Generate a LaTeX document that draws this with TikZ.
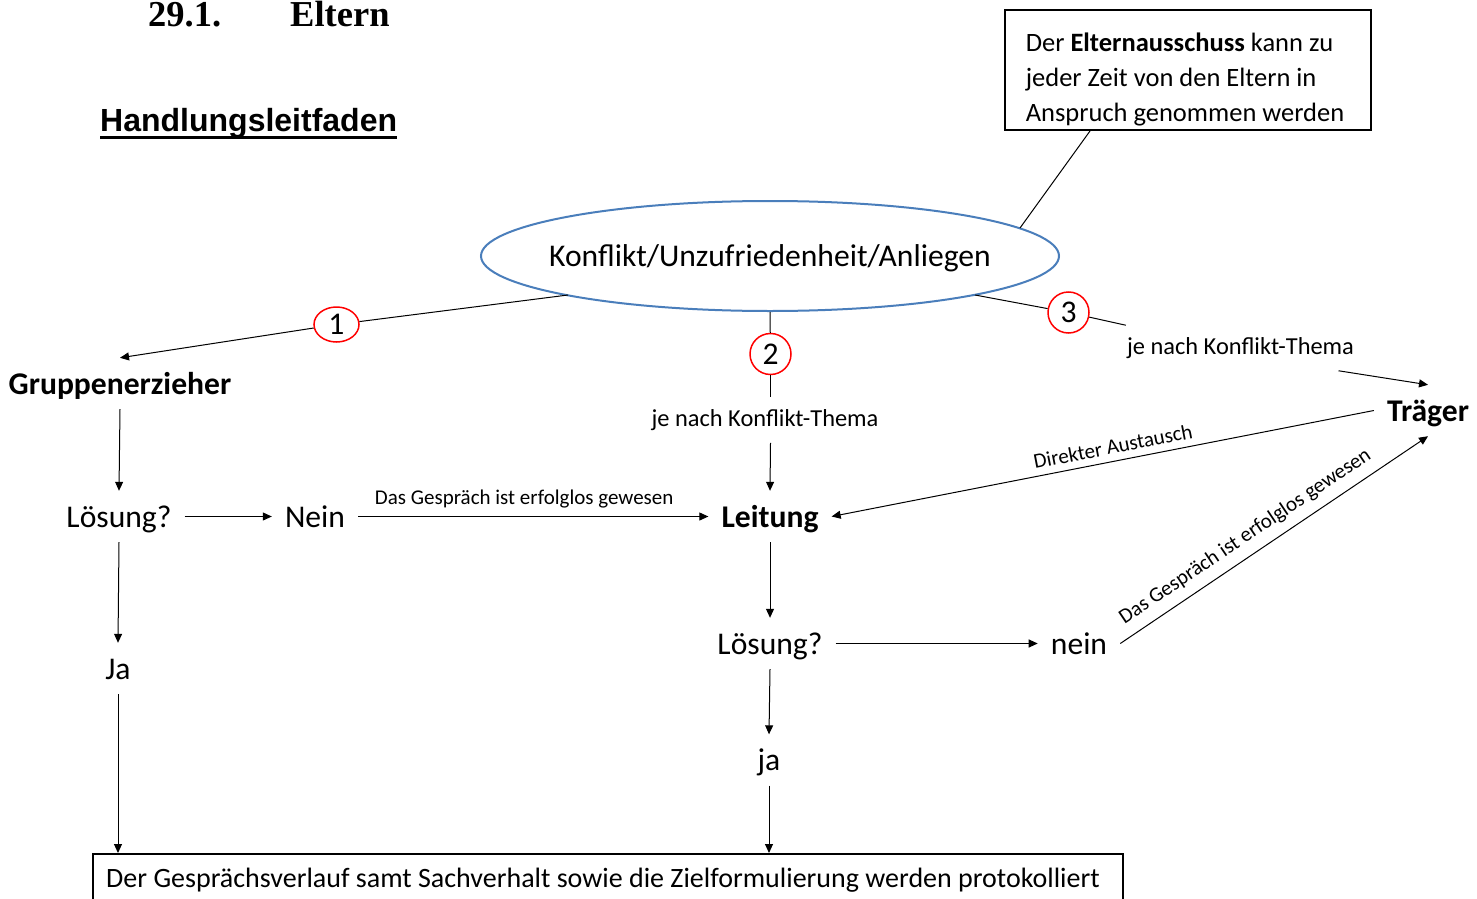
\documentclass[tikz,border=0pt]{standalone}
\usepackage{fontspec}
\setmainfont{Carlito}
\newfontfamily\titlefont{Liberation Serif}
\newfontfamily\arialfont{Liberation Sans}
\usetikzlibrary{shapes.geometric,arrows.meta}
\definecolor{ellblue}{RGB}{74,126,187}
\newcommand\fsmain{\fontsize{31.6}{37}\selectfont}
\newcommand\fsmed{\fontsize{24.4}{29}\selectfont}
\newcommand\fsbox{\fontsize{26.5}{35}\selectfont}
\newcommand\fssmall{\fontsize{21}{25}\selectfont}
\newcommand\fsbottom{\fontsize{28}{33}\selectfont}
\begin{document}
\begin{tikzpicture}[x=1pt,y=-1pt,
  flow/.style={inner xsep=13pt, inner ysep=10pt, text height=26pt, text depth=5pt, font=\fsmain},
  bflow/.style={flow, font=\fsmain\bfseries},
  med/.style={inner sep=12pt, font=\fsmed},
  num/.style={draw=red, line width=1.5pt, fill=white, inner sep=0pt, font=\fsmain},
  conn/.style={line width=1pt},
  arr/.style={conn, -{Triangle[length=9pt,width=8pt]}},
  arrb/.style={conn, {Triangle[length=9pt,width=8pt]}-},
  lbl/.style={font=\fssmall, inner sep=3pt},
  boxed/.style={draw, line width=2pt, inner sep=0pt},
  ]
\fill[white] (0,0) rectangle (1477,899);
\useasboundingbox (0,0) rectangle (1477,899);

% titles
\node[anchor=base west, inner sep=0pt, font=\titlefont\fontsize{36.5}{40}\selectfont\bfseries] (t1) at (148,27) {29.1.};
\node[anchor=base west, inner sep=0pt, font=\titlefont\fontsize{36.5}{40}\selectfont\bfseries] (t2) at (290,27) {Eltern};
\node[anchor=base west, inner sep=0pt, font=\arialfont\fontsize{32}{38}\selectfont\bfseries] (hl) at (100,131) {Handlungsleitfaden};
\draw[line width=3pt] ([yshift=-6pt]hl.base west) -- ([yshift=-6pt]hl.base east);

% top box
\node[boxed, minimum width=366pt, minimum height=120pt,
  label={[align=left, font=\fsbox, yshift=-9pt, xshift=-3pt]center:{Der \textbf{Elternausschuss} kann zu\\jeder Zeit von den Eltern in\\Anspruch genommen werden}}] (tb) at (1188,70) {};

% ellipse
\node[ellipse, draw=ellblue, line width=2pt, minimum width=578pt, minimum height=110pt, inner sep=0pt,
  label={[font=\fsmain, yshift=-2pt]center:Konflikt/Unzufriedenheit/Anliegen}] (el) at (770,256) {};

% numbered circles
\node[num, ellipse, minimum width=45pt, minimum height=35pt] (c1) at (336.5,324.5) {1};
\node[num, circle, minimum size=41pt] (c2) at (770.5,354) {2};
\node[num, circle, minimum size=41pt] (c3) at (1068.5,312.5) {3};

% flow nodes
\node[bflow] (gr) at (120,383.5) {Gruppenerzieher};
\node[flow] (l1) at (119,516.5) {Lösung?};
\node[flow] (n1) at (315,516.5) {Nein};
\node[bflow] (lt) at (770,516.5) {Leitung};
\node[bflow] (tr) at (1428,410.5) {Träger};
\node[flow] (l2) at (770,643.5) {Lösung?};
\node[flow] (n2) at (1079,643.5) {nein};
\node[flow] (j1) at (118,668.5) {Ja};
\node[flow] (j2) at (769,760) {ja};
\node[med] (k2) at (765,420) {je nach Konflikt-Thema};
\node[med] (k3) at (1240.5,348) {je nach Konflikt-Thema};

% bottom box
\node[boxed, line width=1.5pt, minimum width=1030pt, minimum height=52pt, anchor=north,
  label={[font=\fsbottom, xshift=-5pt]center:Der Gesprächsverlauf samt Sachverhalt sowie die Zielformulierung werden protokolliert}] (bx) at (608,853) {};

% connectors
\draw[conn] ([xshift=-98pt]tb.south) -- ([shift={(250,-28)}]el.center);
\draw[conn] ([shift={(-202,39)}]el.center) -- (c1);
\draw[arr] (c1) -- (gr.north);
\draw[conn] (el.south) -- (c2);
\draw[conn] (c2) -- (c2 |- k2.north);
\draw[arr] (c2 |- k2.south) -- (lt.north);
\draw[conn] ([shift={(205,39)}]el.center) -- (c3);
\draw[conn] (c3) -- ([xshift=11pt]k3.north west);
\draw[arr] ([xshift=98pt]k3.south) -- (tr.north);
\draw[arr] (gr.south) -- (l1.north);
\draw[arr] (l1.east) -- (n1.west);
\draw[arr] (n1.east) -- node[lbl, above=5pt, pos=0.474] {Das Gespräch ist erfolglos gewesen} (lt.west);
\draw[arrb] (lt.east) -- node[lbl, sloped, above=4pt, pos=0.524] {Direkter Austausch} (tr.west);
\draw[arr] (n2.east) -- node[lbl, sloped, above=6pt, pos=0.44] {Das Gespräch ist erfolglos gewesen} (tr.south);
\draw[arr] (lt.south) -- (l2.north);
\draw[arr] (l2.east) -- (n2.west);
\draw[arr] (l2.south) -- (j2.north);
\draw[arr] (j2.south) -- (j2.south |- bx.north);
\draw[arr] (l1.south) -- (j1.north);
\draw[arr] (j1.south) -- (j1.south |- bx.north);
\end{tikzpicture}
\end{document}
